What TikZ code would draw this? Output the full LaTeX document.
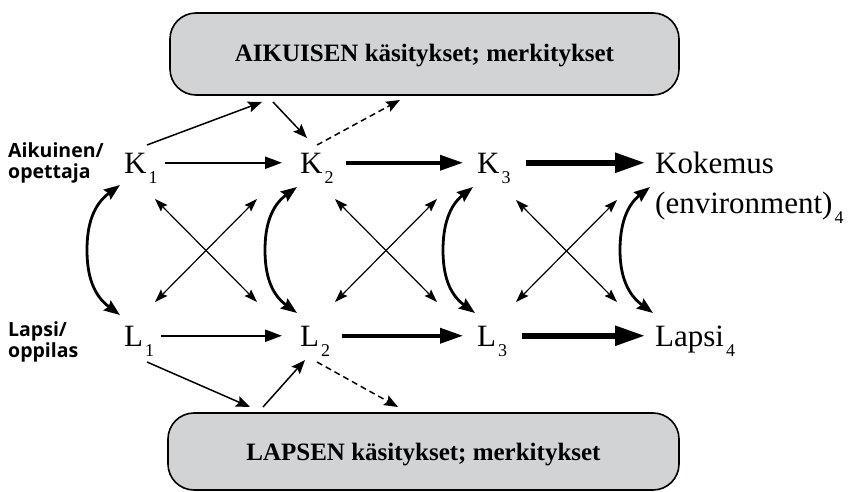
\documentclass[tikz,border=0pt]{standalone}
\usepackage{fontspec}
\setmainfont{Liberation Serif}
\newfontfamily\labfont{Open Sans}
\usetikzlibrary{arrows.meta}
\definecolor{boxgray}{RGB}{210,211,213}
\newcommand\subs[1]{\kern2pt\smash{\raisebox{-10pt}{\fontsize{18}{18}\selectfont #1}}}
\begin{document}
\begin{tikzpicture}[x=1pt,y=-1pt,
 box/.style={draw, line width=1.6pt, fill=boxgray, rounded corners=26pt},
 boxtext/.style={font=\fontsize{25}{25}\selectfont\bfseries},
 mn/.style={anchor=base west, inner sep=0pt, text height=20.5pt, text depth=0pt, font=\fontsize{31}{31}\selectfont},
 lab/.style={anchor=west, inner sep=0pt, align=left, font=\labfont\bfseries\fontsize{19.5}{20.5}\selectfont},
 hA/.style={line width=2.2pt, -{Triangle[length=17pt,width=12pt]}},
 hB/.style={line width=3.6pt, -{Triangle[length=23pt,width=15pt]}},
 hC/.style={line width=5.5pt, -{Triangle[length=30pt,width=19pt]}},
 thinar/.style={line width=1.5pt, -{Stealth[length=14pt,width=11pt,inset=2.5pt]}},
 dashar/.style={thinar, dash pattern=on 6pt off 4pt},
 crossar/.style={line width=1.2pt, {Stealth[length=13pt,width=9pt,inset=2pt]}-{Stealth[length=13pt,width=9pt,inset=2pt]}},
 curvar/.style={line width=2.8pt, {Stealth[length=16pt,width=12pt,inset=2pt]}-{Stealth[length=16pt,width=12pt,inset=2pt]}}
]
\useasboundingbox (0,0) rectangle (851,492);

% boxes
\draw[box] (170,13) rectangle (679,95);
\node[boxtext] (TOP) at (424.5,56) {AIKUISEN käsitykset; merkitykset};
\draw[box] (168,413) rectangle (679,490);
\node[boxtext] (BOT) at (423.5,455) {LAPSEN käsitykset; merkitykset};

% side labels
\node[lab] (lA) at (8,163) {Aikuinen/\\opettaja};
\node[lab] (lL) at (8,342) {Lapsi/\\oppilas};

% main nodes
\node[mn] (K1) at (124,173) {K\subs{1}};
\node[mn] (K2) at (300,173) {K\subs{2}};
\node[mn] (K3) at (477,173) {K\subs{3}};
\node[mn] (K4) at (655,173) {Kokemus};
\node[mn] (E4) at (655,213) {(environment)\subs{4}};
\node[mn] (L1) at (124,346) {L\subs{1}};
\node[mn] (L2) at (300,346) {L\subs{2}};
\node[mn] (L3) at (477,346) {L\subs{3}};
\node[mn] (L4) at (655,346) {Lapsi\subs{4}};

% horizontal arrows
\draw[hA, shorten <=7pt, shorten >=18pt] (K1.east) -- (K2.west);
\draw[hB, shorten <=12pt, shorten >=14pt] (K2.east) -- (K3.west);
\draw[hC, shorten <=15pt, shorten >=10pt] (K3.east) -- (K4.west);
\draw[hA, shorten <=7pt, shorten >=18pt] (L1.east) -- (L2.west);
\draw[hB, shorten <=12pt, shorten >=14pt] (L2.east) -- (L3.west);
\draw[hC, shorten <=15pt, shorten >=10pt] (L3.east) -- (L4.west);

% connection points
\coordinate (k1t) at (147,145);
\coordinate (tA) at (262,102);
\coordinate (tB) at (273,102);
\coordinate (k2t) at (307,138);
\coordinate (k2d) at (317,145);
\coordinate (tC) at (400,100);
\coordinate (l1b) at (147,362);
\coordinate (bA) at (250,407);
\coordinate (bB) at (263,407);
\coordinate (l2b) at (305,360);
\coordinate (l2d) at (317,362);
\coordinate (bC) at (398,407);

\draw[thinar] (k1t) -- (tA);
\draw[thinar] (tB) -- (k2t);
\draw[dashar] (k2d) -- (tC);
\draw[thinar] (l1b) -- (bA);
\draw[thinar] (bB) -- (l2b);
\draw[dashar] (l2d) -- (bC);

% crosses
\coordinate (c1a) at (155,199); \coordinate (c1b) at (257,302);
\coordinate (c1c) at (257,199); \coordinate (c1d) at (155,302);
\coordinate (c2a) at (335,199); \coordinate (c2b) at (437,302);
\coordinate (c2c) at (437,199); \coordinate (c2d) at (335,302);
\coordinate (c3a) at (516,200); \coordinate (c3b) at (617,302);
\coordinate (c3c) at (617,200); \coordinate (c3d) at (516,302);
\foreach \n in {1,2,3}{
  \draw[crossar] (c\n a) -- (c\n b);
  \draw[crossar] (c\n c) -- (c\n d);
}

% curved double arrows
\coordinate (u1) at (120,185); \coordinate (v1) at (120,315);
\coordinate (u2) at (297,187); \coordinate (v2) at (297,313);
\coordinate (u3) at (473,187); \coordinate (v3) at (475,313);
\coordinate (u4) at (650,187); \coordinate (v4) at (653,313);
\draw[curvar] (u1) .. controls (93,205) and (87,225) .. (87,250) .. controls (87,275) and (93,295) .. (v1);
\draw[curvar] (u2) .. controls (271,206) and (265,226) .. (265,250) .. controls (265,275) and (271,294) .. (v2);
\draw[curvar] (u3) .. controls (449,206) and (443,226) .. (443,250) .. controls (443,275) and (449,294) .. (v3);
\draw[curvar] (u4) .. controls (626,206) and (620,226) .. (620,250) .. controls (620,275) and (627,294) .. (v4);
\end{tikzpicture}
\end{document}
